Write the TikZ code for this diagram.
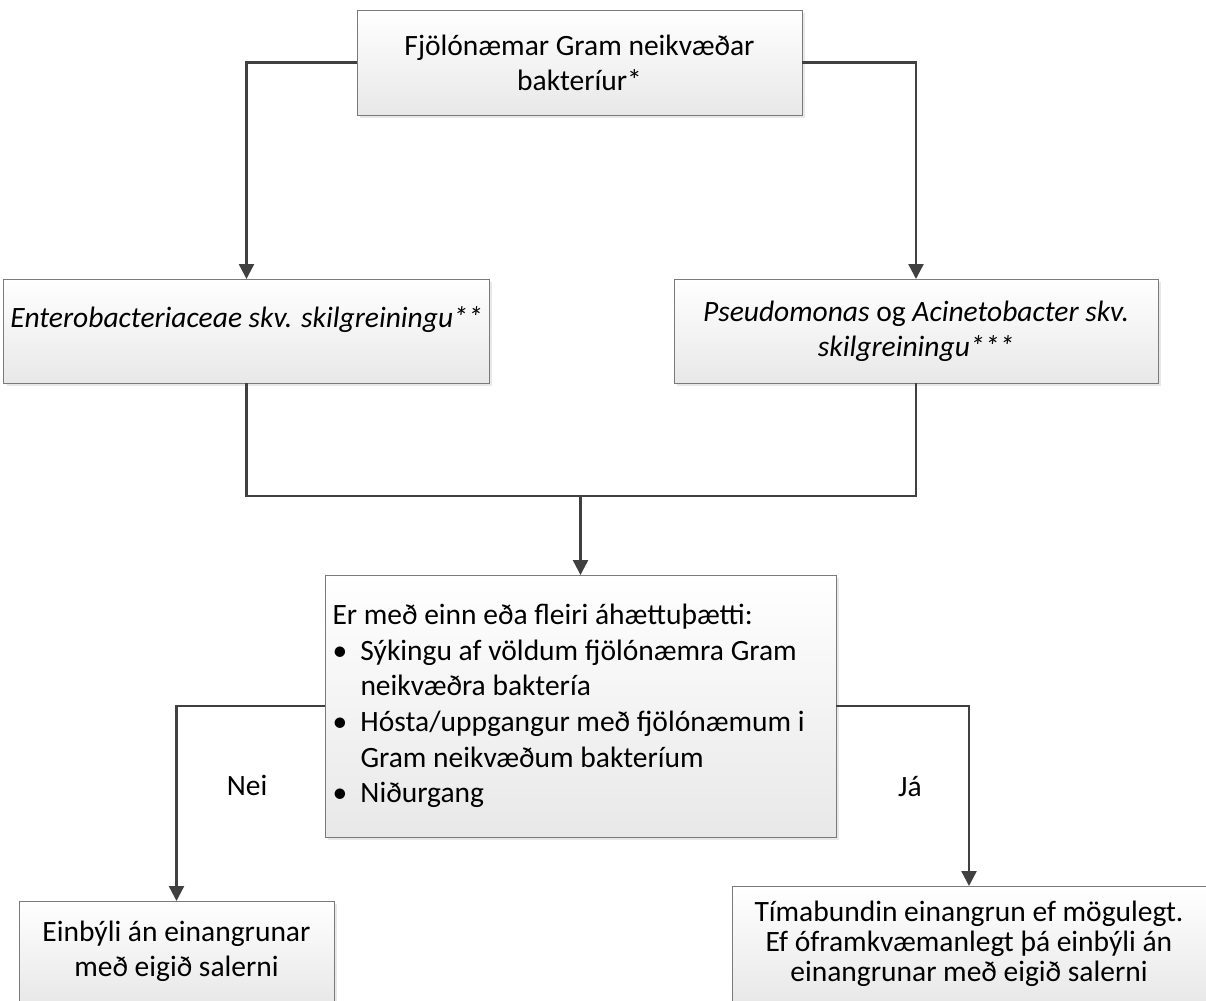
\documentclass[tikz,border=0pt]{standalone}
\usepackage{fontspec}
\setmainfont{Carlito}
\usepackage{xcolor}
\usetikzlibrary{positioning,shadows,calc,arrows.meta}

\definecolor{linegray}{HTML}{404040}
\definecolor{boxgray}{HTML}{7A7A7A}

\begin{document}
\begin{tikzpicture}[x=0.5pt,y=-0.5pt,
		box/.style={draw=boxgray, line width=0.5pt, rectangle, outer sep=0pt,
			top color=white, bottom color=black!9,
			drop shadow={shadow xshift=1.5pt, shadow yshift=-1.5pt, opacity=0.18},
			align=center, font=\fontsize{14.75pt}{17.5pt}\selectfont},
		arr/.style={draw=linegray, line width=1.2pt, -{Triangle[length=7.5pt,width=7.5pt]}},
		conn/.style={draw=linegray, line width=1.2pt},
		lbl/.style={font=\fontsize{14.75pt}{17.5pt}\selectfont}]
	\useasboundingbox (0,0) rectangle (1206,1001);
	\clip (0,0) rectangle (1206,1001);
	
	% Efsti kassi
	\node[box, minimum width=222.5pt, minimum height=52.5pt] (fjol) at (579.5,62.5)
		{Fjölónæmar Gram neikvæðar\\bakteríur*};
	
	% Tveir flokkar
	\node[box, minimum width=236.5pt, minimum height=52pt, text depth=14pt] (entero) at (246.5,331)
		{\textit{Enterobacteriaceae skv. skilgreiningu**}};
	\node[box, minimum width=242pt, minimum height=52pt] (pseudo) at (916,331)
		{\textit{Pseudomonas} og \textit{Acinetobacter skv.}\\\textit{skilgreiningu***}};
	
	% Áhættuþættir
	\node[box, minimum width=255.5pt, minimum height=131pt, text width=248pt, align=flush left,
		inner sep=3.5pt, font=\fontsize{14.75pt}{17.8pt}\selectfont] (ahaetta) at (580.5,706)
		{Er með einn eða fleiri áhættuþætti:\\
		\makebox[14pt][l]{•}Sýkingu af völdum fjölónæmra Gram\\
		\hspace*{14pt}neikvæðra baktería\\
		\makebox[14pt][l]{•}Hósta/uppgangur með fjölónæmum i\\
		\hspace*{14pt}Gram neikvæðum bakteríum\\
		\makebox[14pt][l]{•}Niðurgang};
	
	% Niðurstöður
	\node[box, minimum width=157.5pt, minimum height=50.5pt] (einbyli) at (176.5,951.5)
		{Einbýli án einangrunar\\með eigið salerni};
	\node[box, minimum width=237pt, minimum height=58pt,
		font=\fontsize{14.75pt}{15pt}\selectfont] (timab) at (969,944)
		{Tímabundin einangrun ef mögulegt.\\Ef óframkvæmanlegt þá einbýli án\\einangrunar með eigið salerni};
	
	\node[lbl] (nei) at (247,785) {Nei};
	\node[lbl] (ja) at (910,787) {Já};
	
	% Tengingar
	\draw[arr] (fjol.west) -| (entero.north);
	\draw[arr] (fjol.east) -| (pseudo.north);
	\coordinate (samein) at (ahaetta.north |- 0,496);
	\draw[conn] (entero.south) |- (samein) -| (pseudo.south);
	\draw[arr] (samein) -- (ahaetta.north);
	\draw[arr] (ahaetta.west) -| (einbyli.north);
	\draw[arr] (ahaetta.east) -| (timab.north);
\end{tikzpicture}
\end{document}
